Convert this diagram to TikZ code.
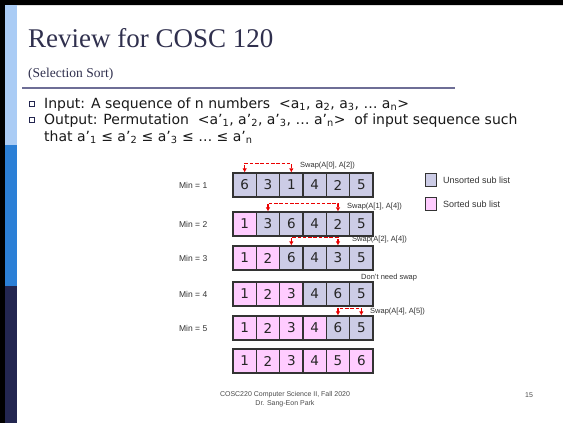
\documentclass[tikz,border=0pt]{standalone}
\usepackage{fontspec}
\setmainfont{Liberation Serif}
\newfontfamily\verdana{DejaVu Sans}
\newfontfamily\arial{Liberation Sans}
\usetikzlibrary{arrows.meta,positioning}
\definecolor{navy}{RGB}{35,38,80}
\definecolor{midblue}{RGB}{43,127,214}
\definecolor{lightblue}{RGB}{170,204,245}
\definecolor{titlegray}{RGB}{48,48,78}
\definecolor{rulegray}{RGB}{110,110,150}
\definecolor{unsorted}{RGB}{204,204,230}
\definecolor{sorted}{RGB}{255,204,255}
\definecolor{swapred}{RGB}{235,0,0}
\newcommand\idx[1]{\textsubscript{#1}}
\tikzset{
	cell/.style={draw=black!80, line width=1.1pt, minimum width=23.33pt, minimum height=24pt, inner sep=0pt, text=black!85, font=\verdana\fontsize{13.5}{14}\selectfont},
	unsortedcell/.style={cell, fill=unsorted},
	sortedcell/.style={cell, fill=sorted},
	swaparrow/.style={swapred, line width=1.3pt, dash pattern=on 3.5pt off 1.8pt, {Latex[length=4pt,width=4.5pt]}-{Latex[length=4pt,width=4.5pt]}},
	swaplabel/.style={anchor=west, inner sep=0pt, text=black!80, font=\arial\fontsize{7.5}{8}\selectfont},
	minlabel/.style={inner sep=0pt, text=black!80, font=\arial\fontsize{8.5}{9}\selectfont},
	legendbox/.style={draw=black!80, line width=0.9pt, minimum width=11pt, minimum height=13pt, inner sep=0pt},
	legendlabel/.style={inner sep=0pt, text=black!80, font=\arial\fontsize{9}{10}\selectfont},
	body/.style={anchor=base west, inner sep=0pt, text=black!90, font=\verdana\fontsize{14}{16}\selectfont},
	bullet/.style={draw=navy, line width=1.1pt, minimum size=5pt, inner sep=0pt},
	footer/.style={inner sep=0pt, text=black!70, font=\arial\fontsize{7}{8.5}\selectfont}
}
\begin{document}
\begin{tikzpicture}[x=1pt, y=-1pt]
	\useasboundingbox (0,0) rectangle (563,423);
	\fill[white] (0,0) rectangle (563,423);
	% frame and side bar
	\fill[black] (0,0) rectangle (5,423) (0,0) rectangle (563,5);
	\fill[lightblue] (5,5) rectangle (17,145);
	\fill[midblue] (5,145) rectangle (17,286);
	\fill[navy] (5,286) rectangle (17,423);
	% heading
	\node[anchor=base west, inner sep=0pt, text=titlegray, font=\fontsize{27}{30}\selectfont] (title) at (28,47) {Review for COSC 120};
	\node[anchor=base west, inner sep=0pt, text=titlegray, font=\fontsize{13.5}{15}\selectfont] (subtitle) at (28,77) {(Selection Sort)};
	\draw[rulegray, line width=1.2pt] (22,88) -- (455,88);
	% bullets
	\node[bullet] (b1) at (32,104) {};
	\node[bullet] (b2) at (32,120) {};
	\node[body] (input) at (44,108.5) {Input: A sequence of n numbers\ \ <a\idx{1}, a\idx{2}, a\idx{3}, … a\idx{n}>};
	\node[body] (output) at (44,124.5) {Output: Permutation\ \ <a’\idx{1}, a’\idx{2}, a’\idx{3}, … a’\idx{n}>\ \ of input sequence such};
	\node[body] (output2) at (44,141) {that a’\idx{1} ≤ a’\idx{2} ≤ a’\idx{3} ≤ … ≤ a’\idx{n}};
	% the array after each pass
	\foreach \r/\yy/\ns/\vals in {1/185/0/{6,3,1,4,2,5}, 2/224/1/{1,3,6,4,2,5}, 3/258/2/{1,2,6,4,3,5},
		4/294/3/{1,2,3,4,6,5}, 5/328/4/{1,2,3,4,6,5}, 6/361/6/{1,2,3,4,5,6}}{
		\foreach \v [count=\c from 0] in \vals {
			\ifnum\c<\ns \def\kind{sortedcell}\else\def\kind{unsortedcell}\fi
			\node[\kind] (r\r c\c) at ({233+23.33*(\c+0.5)},\yy) {\v};
		}
	}
	\foreach \r in {1,...,5}
		\node[minlabel, left=25pt of r\r c0] (min\r) {Min = \r};
	% swaps
	\draw[swaparrow] (r1c0.north) -- ++(0,-9) -| (r1c2.north);
	\draw[swaparrow] (r2c1.north) -- ++(0,-8) -| (r2c4.north);
	\draw[swaparrow] (r3c2.north) -- ++(0,-8) -| (r3c4.north);
	\draw[swaparrow] (r5c4.north) -- ++(0,-7) -| (r5c5.north);
	\node[swaplabel] (sw1) at (300,166) {Swap(A[0], A[2])};
	\node[swaplabel] (sw2) at (347,207) {Swap(A[1], A[4])};
	\node[swaplabel] (sw3) at (352,240) {Swap(A[2], A[4])};
	\node[swaplabel] (noswap) at (361,278) {Don’t need swap};
	\node[swaplabel] (sw5) at (370,312) {Swap(A[4], A[5])};
	% legend
	\node[legendbox, fill=unsorted] (lgu) at (431,180) {};
	\node[legendlabel, right=6pt of lgu] (lgutext) {Unsorted sub list};
	\node[legendbox, fill=sorted] (lgs) at (431,204) {};
	\node[legendlabel, right=6pt of lgs] (lgstext) {Sorted sub list};
	% footer
	\node[footer, align=center] (foot) at (285,399) {COSC220 Computer Science II, Fall 2020\\Dr. Sang-Eon Park};
	\node[footer] (page) at (529,395) {15};
\end{tikzpicture}
\end{document}
